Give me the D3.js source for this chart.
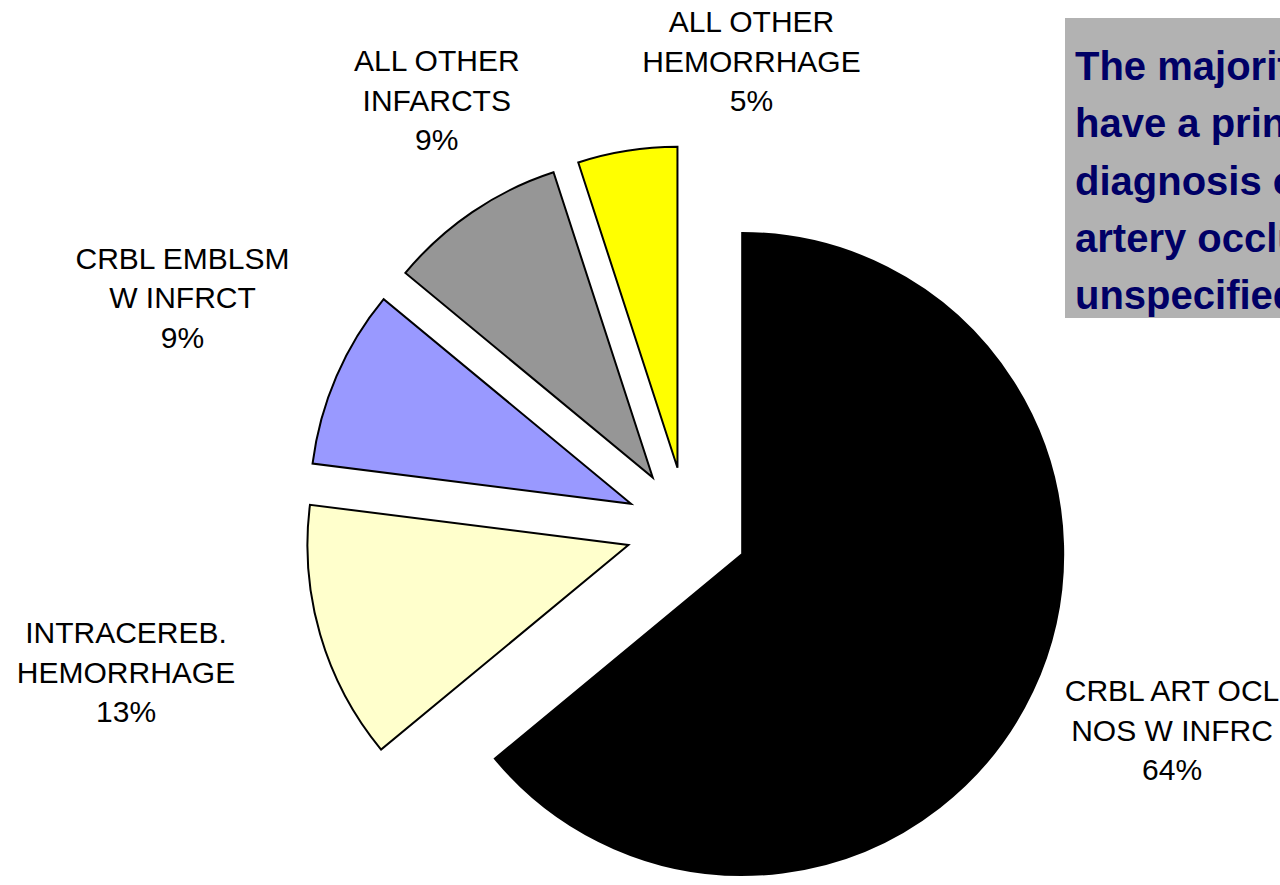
<!DOCTYPE html>
<html>
<head>
<meta charset="utf-8">
<script src="https://cdn.jsdelivr.net/npm/d3@7"></script>
<style>
  html, body { margin: 0; padding: 0; background: #fff; overflow: hidden; }
  svg { display: block; font-family: Arial, "Liberation Sans", sans-serif; }
</style>
</head>
<body>
<div id="chart"></div>
<script>
// Exploded pie of principal stroke diagnoses, with a callout box on the right.
const categories = [
  "CRBL ART OCL NOS W INFRC",
  "INTRACEREB. HEMORRHAGE",
  "CRBL EMBLSM W INFRCT",
  "ALL OTHER INFARCTS",
  "ALL OTHER HEMORRHAGE"
];
const shares = [64, 13, 9, 9, 5];
const labelLines = [
  ["CRBL ART OCL", "NOS W INFRC"],
  ["INTRACEREB.", "HEMORRHAGE"],
  ["CRBL EMBLSM", "W INFRCT"],
  ["ALL OTHER", "INFARCTS"],
  ["ALL OTHER", "HEMORRHAGE"]
];
const colors = ["#000000", "#FFFFCC", "#9999FF", "#969696", "#FFFF00"];
const calloutLines = [
  "The majority of patients",
  "have a principal",
  "diagnosis of cerebral",
  "artery occlusion,",
  "unspecified with infarction"
];

const width = 1280, height = 885;
const cx = 687, cy = 528, radius = 321, explode = 61;

const svg = d3.select("#chart").append("svg")
  .attr("width", width).attr("height", height)
  .attr("viewBox", `0 0 ${width} ${height}`);

const pie = d3.pie().sort(null).value((d) => d);
const arcs = pie(shares);
const arc = d3.arc().innerRadius(0).outerRadius(radius);

const g = svg.append("g").attr("transform", `translate(${cx},${cy})`);

// Every slice is pulled out along its mid angle.
g.selectAll("path.slice").data(arcs).join("path")
  .attr("class", "slice")
  .attr("d", arc)
  .attr("fill", (d, i) => colors[i])
  .attr("stroke", "#000")
  .attr("stroke-width", 2)
  .attr("stroke-linejoin", "miter")
  .attr("transform", (d) => {
    const a = (d.startAngle + d.endAngle) / 2;
    return `translate(${Math.sin(a) * explode},${-Math.cos(a) * explode})`;
  });

// Labels: a point along each slice's mid angle, nudged to where the slide put them.
const labelR = [525, 580, 553, 495, 470];
const labelShift = [[10, -22], [-4, -18], [3, -11], [28, -19], [138, -3]];
const lineH = 39.5;
const lab = g.selectAll("g.lab").data(arcs).join("g").attr("class", "lab")
  .attr("transform", (d, i) => {
    const a = (d.startAngle + d.endAngle) / 2;
    return `translate(${Math.sin(a) * labelR[i] + labelShift[i][0]},${-Math.cos(a) * labelR[i] + labelShift[i][1]})`;
  });
lab.each(function (d, i) {
  const lines = labelLines[i].concat([`${shares[i]}%`]);
  d3.select(this).selectAll("text").data(lines).join("text")
    .attr("text-anchor", "middle")
    .attr("y", (t, k) => (k - (lines.length - 1) / 2) * lineH + 11)
    .attr("font-size", 30)
    .attr("fill", "#000")
    .text((t) => t);
});

// Callout box, running off the right edge.
const box = svg.append("g").attr("transform", "translate(1065,18)");
box.append("rect").attr("width", 400).attr("height", 300).attr("fill", "#B2B2B2");
box.selectAll("text").data(calloutLines).join("text")
  .attr("x", 10)
  .attr("y", (t, k) => 62 + k * 57.3)
  .attr("font-size", 40)
  .attr("font-weight", "bold")
  .attr("fill", "#000066")
  .text((t) => t);
</script>
</body>
</html>
